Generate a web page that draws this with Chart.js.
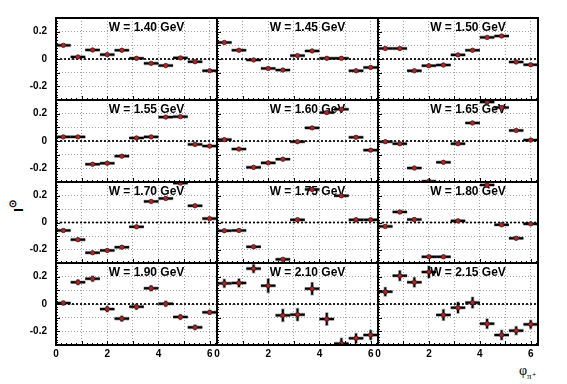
<!DOCTYPE html>
<html>
<head>
<meta charset="utf-8">
<script src="https://cdn.jsdelivr.net/npm/chart.js@4.4.1/dist/chart.umd.min.js"></script>
<style>
  html, body { margin: 0; padding: 0; background: #fff; }
  body { width: 567px; height: 384px; position: relative; overflow: hidden; font-family: "Liberation Sans", Arial, sans-serif; }
  canvas { position: absolute; }
  #ytitle { position: absolute; left: 0; top: 0; font: bold 13px "Liberation Sans", Arial, sans-serif; color: #000;
            transform-origin: 0 0; transform: translate(17px, 206px) rotate(-90deg) translate(-50%, -50%); white-space: nowrap; }
  #ytitle sup { font-size: 10px; position: relative; top: -1px; }
  #xtitle { position: absolute; left: 519px; top: 363px; font: 14px "Liberation Serif", "DejaVu Serif", serif; color: #000; white-space: nowrap; }
  #xtitle sub { font-size: 9px; }
</style>
</head>
<body>
<div id="ytitle">I<sup>⊙</sup></div>
<div id="xtitle">φ<sub>π⁺</sub></div>
<script>
// ---------- data ----------
const phiBins = [0.286, 0.857, 1.428, 1.999, 2.570, 3.142, 3.713, 4.284, 4.855, 5.426, 5.997];
const binHalfWidth = 0.2856;
const phiMax = 6.2832;
const wLabels = ['W = 1.40 GeV', 'W = 1.45 GeV', 'W = 1.50 GeV',
                 'W = 1.55 GeV', 'W = 1.60 GeV', 'W = 1.65 GeV',
                 'W = 1.70 GeV', 'W = 1.75 GeV', 'W = 1.80 GeV',
                 'W = 1.90 GeV', 'W = 2.10 GeV', 'W = 2.15 GeV'];
const yTickLabels = [-0.2, 0, 0.2];
const xTickLabels = [0, 2, 4, 6];

const I_140 = [0.100, 0.015, 0.066, 0.032, 0.064, 0.005, -0.032, -0.048, 0.008, -0.020, -0.086];
const I_145 = [0.121, 0.064, -0.007, -0.069, -0.081, 0.025, 0.059, 0.005, 0.005, -0.086, -0.062];
const I_150 = [0.077, 0.077, -0.086, -0.049, -0.044, 0.030, 0.064, 0.158, 0.168, -0.022, -0.042];
const I_155 = [0.030, 0.030, -0.170, -0.163, -0.111, 0.022, 0.030, 0.175, 0.178, -0.025, -0.037];
const I_160 = [0.010, -0.059, -0.193, -0.160, -0.133, -0.005, 0.096, 0.208, 0.232, 0.027, -0.067];
const I_165 = [-0.005, -0.020, -0.198, -0.295, -0.156, -0.020, 0.132, 0.285, 0.245, 0.077, 0.007];
const I_170 = [-0.059, -0.127, -0.224, -0.207, -0.183, -0.032, 0.156, 0.178, 0.292, 0.124, 0.029];
const I_175 = [-0.061, -0.059, -0.180, null, -0.273, 0.020, 0.245, null, 0.198, 0.020, 0.020];
const I_180 = [-0.029, 0.078, 0.022, -0.254, -0.254, 0.012, null, 0.278, -0.017, -0.117, -0.010];
const I_190 = [0.007, 0.159, 0.185, -0.037, -0.107, -0.020, 0.115, 0.002, -0.095, -0.171, -0.061];
const I_210 = [0.151, 0.154, 0.259, 0.134, -0.083, -0.078, 0.112, -0.110, -0.290, -0.251, -0.227];
const I_215 = [0.090, 0.207, 0.159, 0.234, -0.080, -0.027, 0.010, -0.144, -0.227, -0.195, -0.149];

const err_140 = [0.005, 0.005, 0.005, 0.005, 0.005, 0.005, 0.005, 0.005, 0.005, 0.005, 0.005];
const err_145 = [0.005, 0.005, 0.005, 0.005, 0.005, 0.005, 0.005, 0.005, 0.005, 0.005, 0.005];
const err_150 = [0.005, 0.005, 0.005, 0.005, 0.005, 0.005, 0.005, 0.005, 0.005, 0.005, 0.005];
const err_155 = [0.005, 0.005, 0.005, 0.005, 0.005, 0.005, 0.005, 0.005, 0.005, 0.005, 0.005];
const err_160 = [0.006, 0.006, 0.006, 0.006, 0.006, 0.006, 0.006, 0.006, 0.006, 0.006, 0.006];
const err_165 = [0.006, 0.006, 0.006, 0.006, 0.006, 0.006, 0.006, 0.006, 0.006, 0.006, 0.006];
const err_170 = [0.008, 0.008, 0.008, 0.008, 0.008, 0.008, 0.008, 0.008, 0.008, 0.008, 0.008];
const err_175 = [0.010, 0.010, 0.012, 0.012, 0.012, 0.012, 0.012, 0.012, 0.012, 0.012, 0.012];
const err_180 = [0.010, 0.012, 0.012, 0.012, 0.012, 0.012, 0.012, 0.012, 0.012, 0.010, 0.010];
const err_190 = [0.015, 0.018, 0.020, 0.020, 0.020, 0.020, 0.020, 0.020, 0.018, 0.018, 0.015];
const err_210 = [0.030, 0.030, 0.030, 0.050, 0.045, 0.045, 0.045, 0.045, 0.040, 0.035, 0.035];
const err_215 = [0.032, 0.037, 0.035, 0.043, 0.040, 0.040, 0.040, 0.035, 0.035, 0.030, 0.030];

const panelValues = [I_140, I_145, I_150, I_155, I_160, I_165, I_170, I_175, I_180, I_190, I_210, I_215];
const panelErrors = [err_140, err_145, err_150, err_155, err_160, err_165, err_170, err_175, err_180, err_190, err_210, err_215];

// ---------- layout ----------
const colLeft = [56, 217, 378];
const colWidth = [161, 161, 160];
const rowTop = [18, 100, 182, 263];
const rowHeight = [82, 82, 81, 82];
const PAD = 22, YAXIS_W = 40, XAXIS_H = 16;
const FONT = '"Liberation Sans", Arial, sans-serif';

const panelPlugin = {
  id: 'panel',
  beforeDatasetsDraw(chart, args, opts) {
    const { ctx, chartArea: a, scales: { x, y } } = chart;
    ctx.save();
    ctx.beginPath(); ctx.rect(a.left, a.top, a.right - a.left, a.bottom - a.top); ctx.clip();
    // zero line
    const y0 = y.getPixelForValue(0);
    ctx.setLineDash([2, 2]); ctx.lineWidth = 1.7; ctx.strokeStyle = '#000';
    ctx.beginPath(); ctx.moveTo(a.left, y0); ctx.lineTo(a.right, y0); ctx.stroke();
    ctx.setLineDash([]);
    // title
    ctx.font = 'bold 12px ' + FONT; ctx.textAlign = 'center'; ctx.textBaseline = 'middle'; ctx.fillStyle = '#000';
    ctx.fillText(opts.title, (a.left + a.right) / 2 + 10, a.top + 9.5);
    // error bars
    const ds = chart.data.datasets[0];
    ds.data.forEach((p, i) => {
      if (p.y === null || p.y === undefined) return;
      const e = ds.err[i];
      const xl = x.getPixelForValue(p.x - binHalfWidth), xr = x.getPixelForValue(p.x + binHalfWidth);
      const xc = x.getPixelForValue(p.x), yc = y.getPixelForValue(p.y);
      const yt = y.getPixelForValue(p.y + e), yb = y.getPixelForValue(p.y - e);
      ctx.strokeStyle = 'rgba(0,0,0,0.3)'; ctx.lineWidth = 3.6;
      ctx.beginPath(); ctx.moveTo(xl, yc); ctx.lineTo(xr, yc); ctx.moveTo(xc, yt - 0.7); ctx.lineTo(xc, yb + 0.7); ctx.stroke();
      ctx.strokeStyle = '#000'; ctx.lineWidth = 2.2;
      ctx.beginPath(); ctx.moveTo(xl, yc); ctx.lineTo(xr, yc); ctx.stroke();
      ctx.lineWidth = 2;
      ctx.beginPath(); ctx.moveTo(xc, yt); ctx.lineTo(xc, yb); ctx.stroke();
    });
    ctx.restore();
  },
  afterDraw(chart) {
    const { ctx, chartArea: a, scales: { x, y } } = chart;
    ctx.save();
    ctx.strokeStyle = '#000';
    // inward ticks
    ctx.lineWidth = 1;
    ctx.beginPath();
    for (let k = -15; k <= 15; k++) {
      const v = k * 0.02, py = Math.round(y.getPixelForValue(v)) + 0.5;
      const len = (k % 5 === 0) ? 4 : 2;
      ctx.moveTo(a.left, py); ctx.lineTo(a.left + len, py);
    }
    for (let k = 0; k <= 31; k++) {
      const v = k * 0.2; if (v > phiMax) break;
      const px = Math.round(x.getPixelForValue(v)) + 0.5;
      const len = (k % 5 === 0) ? 4 : 2;
      ctx.moveTo(px, a.bottom); ctx.lineTo(px, a.bottom - len);
    }
    ctx.stroke();
    // frame
    ctx.lineWidth = 2;
    ctx.strokeRect(a.left, a.top, a.right - a.left, a.bottom - a.top);
    ctx.restore();
  }
};

function near(v, list) { return list.some(t => Math.abs(v - t) < 1e-6); }

for (let r = 0; r < 4; r++) {
  for (let c = 0; c < 3; c++) {
    const idx = r * 3 + c;
    const leftCol = c === 0, bottomRow = r === 3;
    const cw = colWidth[c] + 2 * PAD + (leftCol ? YAXIS_W : 0);
    const chh = rowHeight[r] + 2 * PAD + (bottomRow ? XAXIS_H : 0);
    const cv = document.createElement('canvas');
    cv.width = cw; cv.height = chh;
    cv.style.width = cw + 'px'; cv.style.height = chh + 'px';
    cv.style.left = (colLeft[c] - PAD - (leftCol ? YAXIS_W : 0)) + 'px';
    cv.style.top = (rowTop[r] - PAD) + 'px';
    document.body.appendChild(cv);

    const vals = panelValues[idx];
    const pts = phiBins.map((xv, i) => ({ x: xv, y: vals[i] }));

    new Chart(cv, {
      type: 'scatter',
      data: {
        datasets: [{
          data: pts,
          err: panelErrors[idx],
          pointRadius: 2.2,
          pointHoverRadius: 2.2,
          backgroundColor: '#a52a2a',
          borderColor: '#5a1212',
          borderWidth: 0.8,
          clip: 0
        }]
      },
      options: {
        responsive: false,
        animation: false,
        events: [],
        devicePixelRatio: 1,
        layout: { padding: PAD },
        plugins: { legend: { display: false }, tooltip: { enabled: false }, panel: { title: wLabels[idx] } },
        scales: {
          x: {
            type: 'linear', min: 0, max: phiMax,
            afterFit(s) { s.height = bottomRow ? XAXIS_H : 0; },
            border: { display: false, dash: [1, 2] },
            grid: { color: '#8a8a8a', lineWidth: 0.8, drawTicks: false },
            ticks: {
              display: bottomRow, stepSize: 1, includeBounds: false, padding: 3, color: '#000', maxRotation: 0, autoSkip: false,
              font: { family: FONT, size: 10, weight: 'bold' },
              callback: v => near(v, xTickLabels) ? String(Math.round(v)) : ''
            }
          },
          y: {
            type: 'linear', min: -0.3, max: 0.3,
            afterFit(s) { s.width = leftCol ? YAXIS_W : 0; },
            border: { display: false, dash: [1, 2] },
            grid: { color: '#8a8a8a', lineWidth: 0.8, drawTicks: false },
            ticks: {
              display: leftCol, stepSize: 0.1, padding: 9, color: '#000', autoSkip: false,
              font: { family: FONT, size: 10, weight: 'bold' },
              callback: v => near(v, yTickLabels) ? (Math.abs(v) < 1e-9 ? '0' : v.toFixed(1)) : ''
            }
          }
        }
      },
      plugins: [panelPlugin]
    });
  }
}
</script>
</body>
</html>
